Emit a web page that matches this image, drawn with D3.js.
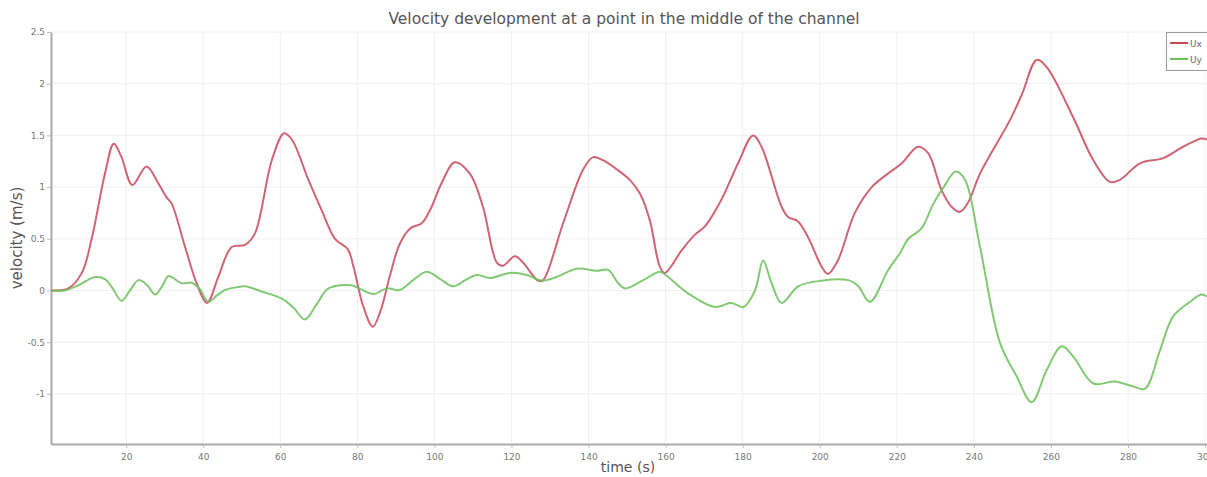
<!DOCTYPE html>
<html>
<head>
<meta charset="utf-8">
<script src="https://cdn.jsdelivr.net/npm/d3@7"></script>
<style>
  html, body { margin: 0; padding: 0; background: #fff; }
  svg { display: block; }
  text { font-family: "DejaVu Sans", "Lato", sans-serif; }
</style>
</head>
<body>
<svg id="chart" width="1207" height="477"></svg>
<script>
const title = "Velocity development at a point in the middle of the channel";
const xLabel = "time (s)";
const yLabel = "velocity (m/s)";
const seriesNames = ["Ux", "Uy"];
const seriesColors = ["#c8485c", "#6cbf5c"];

const xTicks = [20, 40, 60, 80, 100, 120, 140, 160, 180, 200, 220, 240, 260, 280, 300];
const yTicks = [2.5, 2, 1.5, 1, 0.5, 0, -0.5, -1];
const yTickLabels = ["2.5", "2", "1.5", "1", "0.5", "0", "-0.5", "-1"];

const uxTime = [0.5, 5, 8.5, 11, 14.5, 16.8, 18.8, 21.6, 25.3, 28.3, 30.5, 31.8, 35.3, 38.3, 41, 43.9, 47.4, 50.8, 53.4, 57.8, 61, 63, 67.3, 70.7, 74.2, 77.5, 79, 81.5, 84, 86, 88.5, 91, 93.7, 96.7, 98.9, 102, 105.3, 109.2, 112.6, 116.2, 117.8, 120.9, 123, 126.9, 128.2, 133.4, 138.6, 141.2, 143.7, 147.4, 150.7, 153.3, 155.9, 158.5, 159.8, 164.2, 167.6, 170.2, 174.5, 178.8, 182.7, 184.9, 190.1, 191.8, 194.3, 196.9, 200.5, 202.1, 204.7, 209.1, 213.5, 217.7, 221.3, 225.5, 228.1, 231.6, 234.2, 236.4, 238.5, 241.6, 249.4, 252.5, 256.3, 258.9, 265.7, 271, 275.3, 277.9, 283.1, 289.1, 294.3, 299.1, 300.5];
const uxValues = [0, 0.02, 0.17, 0.49, 1.13, 1.42, 1.29, 1.02, 1.20, 1.04, 0.90, 0.84, 0.42, 0.07, -0.12, 0.13, 0.42, 0.44, 0.55, 1.26, 1.52, 1.46, 1.07, 0.78, 0.50, 0.40, 0.23, -0.15, -0.35, -0.20, 0.15, 0.45, 0.60, 0.65, 0.78, 1.05, 1.24, 1.13, 0.81, 0.27, 0.24, 0.33, 0.27, 0.095, 0.10, 0.65, 1.17, 1.29, 1.26, 1.17, 1.07, 0.94, 0.68, 0.23, 0.17, 0.39, 0.54, 0.62, 0.88, 1.23, 1.50, 1.39, 0.81, 0.71, 0.67, 0.52, 0.23, 0.16, 0.29, 0.75, 1.0, 1.13, 1.23, 1.39, 1.33, 0.97, 0.81, 0.76, 0.85, 1.13, 1.65, 1.90, 2.23, 2.16, 1.68, 1.26, 1.05, 1.07, 1.23, 1.28, 1.39, 1.47, 1.46];

const uyTime = [0.5, 4, 7.6, 11.9, 14.5, 16.5, 18.8, 21, 23.2, 25.5, 27.5, 29.5, 31, 34.4, 37, 39, 41.3, 43.5, 45.7, 48.5, 50.8, 55.2, 60.4, 63.5, 66.4, 69.5, 72.5, 78.5, 81, 84.1, 87.6, 91, 94.5, 98, 101.5, 104.9, 108, 111, 114.4, 119.6, 124, 127.8, 131.7, 136.9, 142.1, 145.1, 147.5, 149.5, 154.2, 158.5, 160, 165.9, 172.8, 177.1, 180.2, 183.2, 185.3, 187.5, 190.1, 194.4, 200.5, 207.4, 210, 213, 217.8, 220.8, 223, 226.4, 229.5, 232, 235.3, 237.7, 241.6, 246.8, 251.1, 255, 258.9, 262.8, 265.8, 271, 276.6, 281.4, 284.4, 288.3, 291.7, 296.1, 299.1, 300.5];
const uyValues = [0, 0, 0.05, 0.13, 0.11, 0.02, -0.10, 0, 0.10, 0.05, -0.04, 0.05, 0.14, 0.07, 0.075, 0.02, -0.11, -0.05, 0.005, 0.03, 0.04, -0.01, -0.08, -0.17, -0.28, -0.13, 0.02, 0.05, 0.01, -0.035, 0.02, 0.005, 0.10, 0.18, 0.11, 0.04, 0.10, 0.15, 0.12, 0.17, 0.15, 0.095, 0.13, 0.21, 0.19, 0.20, 0.08, 0.02, 0.10, 0.18, 0.15, -0.03, -0.16, -0.12, -0.16, 0, 0.29, 0.07, -0.12, 0.04, 0.095, 0.10, 0.04, -0.11, 0.20, 0.36, 0.50, 0.60, 0.84, 0.99, 1.15, 1.07, 0.42, -0.51, -0.83, -1.08, -0.77, -0.54, -0.64, -0.90, -0.88, -0.93, -0.95, -0.58, -0.25, -0.11, -0.04, -0.06];

const svg = d3.select("#chart");
const mLeft = 51, mRight = 1207, mTop = 32, mBottom = 444;

const x = d3.scaleLinear().domain([0.5, 300.5]).range([mLeft, mRight]);
const y = d3.scaleLinear().domain([-1.485, 2.5]).range([mBottom, mTop]);

// grid
const grid = svg.append("g");
grid.selectAll("line.vx").data(xTicks).join("line")
  .attr("x1", d => x(d)).attr("x2", d => x(d))
  .attr("y1", mTop).attr("y2", mBottom)
  .attr("stroke", "#f0f0f0").attr("stroke-width", 1);
grid.selectAll("line.hy").data(yTicks).join("line")
  .attr("x1", mLeft).attr("x2", mRight)
  .attr("y1", d => y(d)).attr("y2", d => y(d))
  .attr("stroke", "#f0f0f0").attr("stroke-width", 1);

// axes
const xAxis = d3.axisBottom(x).tickValues(xTicks).tickSizeInner(4).tickSizeOuter(0).tickPadding(6).tickFormat(d3.format("d"));
const gx = svg.append("g").attr("transform", `translate(0,${mBottom})`).call(xAxis);
gx.select(".domain").attr("stroke", "#aaa").attr("stroke-width", 2);
gx.selectAll(".tick line").attr("stroke", "#bbb");
gx.selectAll(".tick text").attr("fill", "#777").attr("font-size", 9);

const yAxis = d3.axisLeft(y).tickValues(yTicks).tickSizeInner(4).tickSizeOuter(0).tickPadding(2)
  .tickFormat((d, i) => yTickLabels[i]);
const gy = svg.append("g").attr("transform", `translate(${mLeft},0)`).call(yAxis);
gy.select(".domain").attr("stroke", "#aaa").attr("stroke-width", 2);
gy.selectAll(".tick line").attr("stroke", "#bbb");
gy.selectAll(".tick text").attr("fill", "#777").attr("font-size", 9);

// lines
const line = d3.line()
  .x(d => x(d[0])).y(d => y(d[1]))
  .curve(d3.curveCatmullRom.alpha(0.5));

const uxData = uxTime.map((t, i) => [t, uxValues[i]]);
const uyData = uyTime.map((t, i) => [t, uyValues[i]]);

svg.append("path").datum(uxData).attr("d", line)
  .attr("fill", "none").attr("stroke", seriesColors[0]).attr("stroke-width", 2).attr("stroke-opacity", 0.85);
svg.append("path").datum(uyData).attr("d", line)
  .attr("fill", "none").attr("stroke", seriesColors[1]).attr("stroke-width", 2).attr("stroke-opacity", 0.85);

// title & labels
svg.append("text").attr("x", 624).attr("y", 24).attr("text-anchor", "middle")
  .attr("font-size", 15.5).attr("fill", "#555").text(title);
svg.append("text").attr("x", 628).attr("y", 472).attr("text-anchor", "middle")
  .attr("font-size", 14).attr("fill", "#555").text(xLabel);
svg.append("text").attr("transform", "translate(22,238) rotate(-90)").attr("text-anchor", "middle")
  .attr("font-size", 15).attr("fill", "#555").text(yLabel);

// legend
const lg = svg.append("g");
lg.append("rect").attr("x", 1166.5).attr("y", 32.5).attr("width", 45).attr("height", 38)
  .attr("fill", "#fff").attr("stroke", "#999").attr("stroke-width", 1);
seriesNames.forEach((n, i) => {
  const yy = 43 + i * 16;
  lg.append("line").attr("x1", 1170).attr("x2", 1188).attr("y1", yy).attr("y2", yy)
    .attr("stroke", seriesColors[i]).attr("stroke-width", 2);
  lg.append("text").attr("x", 1190).attr("y", yy + 3.5).attr("font-size", 9).attr("fill", "#666").text(n);
});
</script>
</body>
</html>
